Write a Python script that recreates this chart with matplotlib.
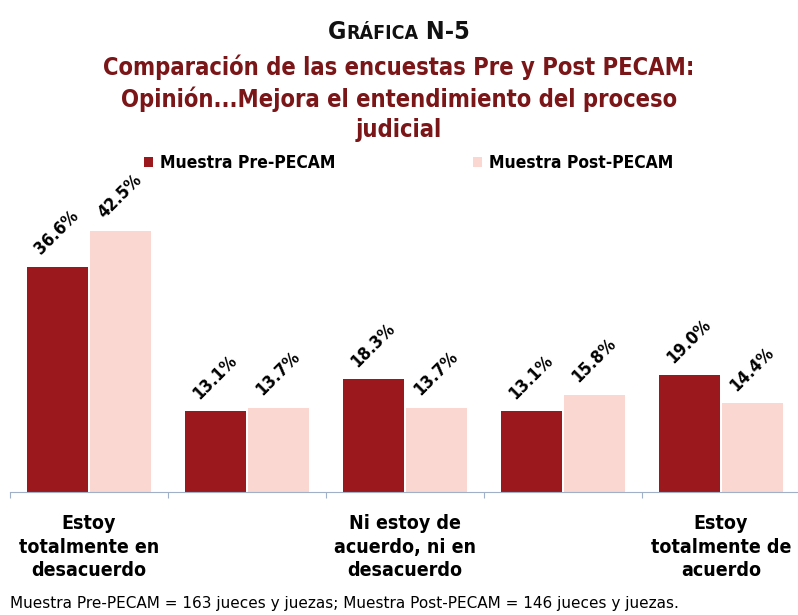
import matplotlib.pyplot as plt
import numpy as np

plt.rcParams['font.family'] = ['DejaVu Sans']
plt.rcParams['font.stretch'] = 'condensed'

# Survey answers and percentages
categorias = ['Estoy\ntotalmente en\ndesacuerdo', 'En desacuerdo',
              'Ni estoy de\nacuerdo, ni en\ndesacuerdo', 'De acuerdo',
              'Estoy\ntotalmente de\nacuerdo']
etiquetas_visibles = [True, False, True, False, True]
pre_pecam = [36.6, 13.1, 18.3, 13.1, 19.0]
post_pecam = [42.5, 13.7, 13.7, 15.8, 14.4]
series = ['Muestra Pre-PECAM', 'Muestra Post-PECAM']

color_pre = '#9b181d'
color_post = '#fad7d0'

fig = plt.figure(figsize=(7.98, 6.15), dpi=100)
ax = fig.add_axes([0.0125, 0.2, 0.99, 0.5])

x = np.arange(len(categorias))
w = 0.39
b1 = ax.bar(x - 0.2, pre_pecam, w, color=color_pre, label=series[0])
b2 = ax.bar(x + 0.2, post_pecam, w, color=color_post, label=series[1])

# rotated value labels above each bar
for bars, vals in ((b1, pre_pecam), (b2, post_pecam)):
    for r, v in zip(bars, vals):
        ax.text(r.get_x() + 0.11, v + 1.4, f'{v:.1f}%', rotation=45,
                rotation_mode='anchor', ha='left', va='bottom',
                fontsize=12.5, fontweight='bold', color='black')

ax.set_xlim(-0.5, len(categorias) - 0.5)
ax.set_ylim(0, 50)
for s in ['top', 'right', 'left']:
    ax.spines[s].set_visible(False)
ax.spines['bottom'].set_color('#9fb0c8')
ax.spines['bottom'].set_linewidth(0.8)
ax.set_yticks([])
ax.set_xticks(np.arange(len(categorias) + 1) - 0.5)
ax.tick_params(axis='x', length=4, color='#9fb0c8', labelbottom=False)
for i, c in enumerate(categorias):
    if etiquetas_visibles[i]:
        ax.text(i, -3.6, c, ha='center', va='top', fontsize=14,
                fontweight='bold', linespacing=1.3)

# small-caps style heading built from pieces
fig.canvas.draw()
ren = fig.canvas.get_renderer()
piezas = [('G', 18), ('RÁFICA', 14), (' N-5', 18)]
objs = [fig.text(0, 0.936, p, fontsize=s, fontweight='bold', color='#111111',
                 va='baseline') for p, s in piezas]
anchos = [o.get_window_extent(ren).width for o in objs]
xpos = (fig.bbox.width - sum(anchos)) / 2
for o, a in zip(objs, anchos):
    o.set_x(xpos / fig.bbox.width)
    xpos += a

fig.text(0.5, 0.84, 'Comparación de las encuestas Pre y Post PECAM:\n'
         'Opinión...Mejora el entendimiento del proceso\njudicial',
         ha='center', va='center', fontsize=17, fontweight='bold',
         color='#7a1518', linespacing=1.3)

leg = fig.legend(handles=[b1, b2], loc='center', bbox_to_anchor=(0.512, 0.735),
                 ncol=2, frameon=False, fontsize=12.5, handlelength=0.55,
                 handleheight=0.55, handletextpad=0.4, columnspacing=7.9)
for t in leg.get_texts():
    t.set_fontweight('bold')

fig.text(0.0125, 0.018, 'Muestra Pre-PECAM = 163 jueces y juezas; '
         'Muestra Post-PECAM = 146 jueces y juezas.',
         ha='left', va='center', fontsize=11, fontstretch='normal')

fig.savefig('out.png', dpi=100)
